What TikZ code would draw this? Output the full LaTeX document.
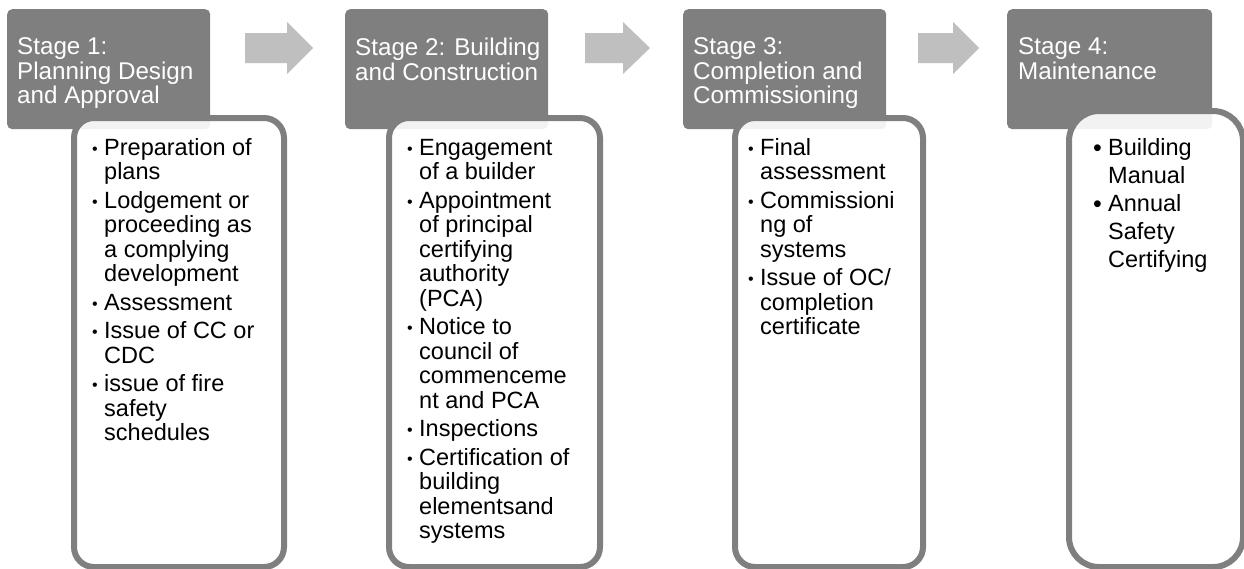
\documentclass[tikz,border=0pt]{standalone}
\usepackage{fontspec}
\setmainfont{Liberation Sans}
\usetikzlibrary{positioning}

\definecolor{stagegray}{HTML}{7F7F7F}
\definecolor{arrowgray}{HTML}{BFBFBF}

\newlength{\bulw}
\newcommand{\smallbul}{{\fontsize{16}{16}\selectfont\raisebox{1pt}{•}}}
\newcommand{\bigbul}{{\fontsize{25}{25}\selectfont\raisebox{-1.5pt}{•}}}
\newcommand{\bulsym}{\smallbul}
\newcommand{\bitem}[1]{\par\hangindent=\bulw\hangafter=1\noindent\makebox[\bulw][l]{\bulsym}#1\par}
% #1 line pitch, #2 gap between items, #3 items
\newcommand{\bodytext}[3]{\begin{minipage}[t]{220pt}\parindent=0pt\setlength{\parskip}{#2}\fontsize{23.5}{#1}\selectfont #3\end{minipage}}
\newcommand{\headtext}[1]{\begin{minipage}[t]{220pt}\fontsize{24.2}{24.5}\selectfont\color{white}#1\end{minipage}}

\begin{document}
\begin{tikzpicture}[x=1pt,y=1pt,
    stagehead/.style={rectangle,fill=stagegray,rounded corners=5pt,inner sep=0pt,
      minimum width=203pt,minimum height=120pt,anchor=north west},
    stagebody/.style={rectangle,draw=stagegray,line width=6pt,fill=white,fill opacity=0.9,
      rounded corners=20pt,inner sep=0pt,anchor=north west},
    label/.style={inner sep=0pt,anchor=base west}]
  \useasboundingbox (0,0) rectangle (1244,-568);

  % headers
  \node[stagehead] (h1) at (7,-9) {};
  \node[stagehead] (h2) at (345,-9) {};
  \node[stagehead] (h3) at (683,-9) {};
  \node[stagehead,minimum width=205pt] (h4) at (1007,-9) {};

  % bodies
  \node[stagebody,minimum width=210pt,minimum height=449pt] (b1) at (71,-115) {};
  \node[stagebody,minimum width=211pt,minimum height=449pt] (b2) at (386,-115) {};
  \node[stagebody,minimum width=188pt,minimum height=449pt] (b3) at (732,-115) {};
  \node[stagebody,minimum width=174pt,minimum height=456pt,rounded corners=30pt] (b4) at (1066,-108) {};

  % arrows
  \foreach \xa/\xb/\xc in {245/287/313, 585/623/650, 918/953/979}
    \fill[arrowgray] (\xa,-33) -- (\xb,-33) -- (\xb,-22) -- (\xc,-48)
      -- (\xb,-74) -- (\xb,-63) -- (\xa,-63) -- cycle;

  % header texts
  \node[label] (t1) at ([xshift=10pt,yshift=-29pt]h1.north west)
    {\headtext{Stage 1:\\Planning Design\\and Approval}};
  \node[label] (t2) at ([xshift=10pt,yshift=-29pt]h2.north west)
    {\headtext{Stage 2: Building\\and Construction}};
  \node[label] (t3) at ([xshift=10pt,yshift=-29pt]h3.north west)
    {\headtext{Stage 3:\\Completion and\\Commissioning}};
  \node[label] (t4) at ([xshift=11pt,yshift=-29pt]h4.north west)
    {\headtext{Stage 4:\\Maintenance}};

  % lists
  \node[label] (l1) at (92,-155) {\setlength{\bulw}{12pt}\bodytext{24.5pt}{4pt}{%
    \bitem{Preparation of\newline plans}
    \bitem{Lodgement or\newline proceeding as\newline a complying\newline development}
    \bitem{Assessment}
    \bitem{Issue of CC or\newline CDC}
    \bitem{issue of fire\newline safety\newline schedules}}};
  \node[label] (l2) at (407,-155) {\setlength{\bulw}{12pt}\bodytext{24.5pt}{4pt}{%
    \bitem{Engagement\newline of a builder}
    \bitem{Appointment\newline of principal\newline certifying\newline authority\newline (PCA)}
    \bitem{Notice to\newline council of\newline commenceme\newline nt and PCA}
    \bitem{Inspections}
    \bitem{Certification of\newline building\newline elementsand\newline systems}}};
  \node[label] (l3) at (748,-155) {\setlength{\bulw}{12pt}\bodytext{24.5pt}{4pt}{%
    \bitem{Final\newline assessment}
    \bitem{Commissioni\newline ng of\newline systems}
    \bitem{Issue of OC/\newline completion\newline certificate}}};
  \node[label] (l4) at (1093,-155) {\setlength{\bulw}{15pt}\let\bulsym\bigbul\bodytext{28pt}{0pt}{%
    \bitem{Building\newline Manual}
    \bitem{Annual\newline Safety\newline Certifying}}};
\end{tikzpicture}
\end{document}
